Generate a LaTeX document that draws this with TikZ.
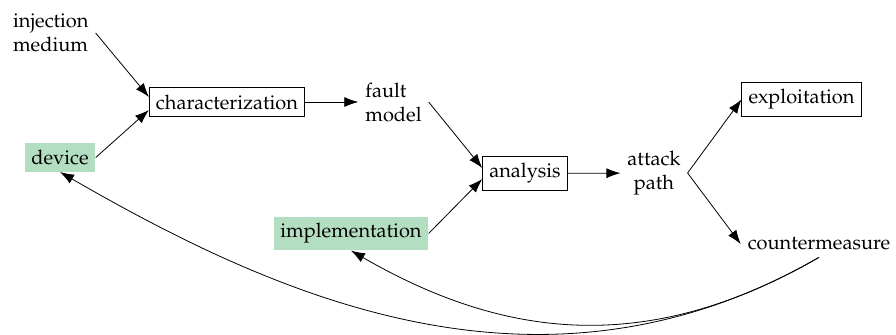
\documentclass[tikz,border=0pt]{standalone}
\usepackage[T1]{fontenc}
\usepackage{mathpazo}
\usetikzlibrary{arrows.meta}
\definecolor{lightgreen}{RGB}{179,222,194}

\begin{document}
\begin{tikzpicture}[->, >={Latex[length=7pt,width=5pt]}, process/.style={draw, rectangle}, input/.style={fill=lightgreen}, twoline/.style={align=left}]

			\useasboundingbox (0,0) rectangle (448pt,-167pt);

			\node[twoline] (medium) at (25.4pt,-16.5pt) {injection\\medium};
			\node[input] (device) at (30pt,-78.75pt) {device};
			\node[process] (char) at (113.5pt,-51pt) {characterization};
			\node[twoline] (fault) at (196.75pt,-51pt) {fault\\model};
			\node[input] (impl) at (175.5pt,-116.75pt) {implementation};
			\node[process] (analysis) at (262.5pt,-86.75pt) {analysis};
			\node[align=center] (path) at (327pt,-86.5pt) {attack\\path};
			\node[process] (exploit) at (400.75pt,-49.75pt) {exploitation};
			\node (counter) at (409.5pt,-122pt) {countermeasure};

			\path
			(medium.east) edge ([yshift=2.5pt]char.west)
			(device.east) edge ([yshift=-4pt]char.west)
			(char) edge (fault)
			(fault.east) edge ([yshift=2.75pt]analysis.west)
			(impl.east) edge ([yshift=-2.75pt]analysis.west)
			(analysis) edge (path)
			(path.east) edge (exploit.west)
					edge (counter.west);

			% feedback from the countermeasure
			\draw (counter.south) .. controls +(-86.6pt,-50pt) and +(75.8pt,-43.75pt) .. (impl.south);
			\draw (counter.south) .. controls +(-138.6pt,-80pt) and +(108.3pt,-62.5pt) .. (device.south);

			\end{tikzpicture}
\end{document}
